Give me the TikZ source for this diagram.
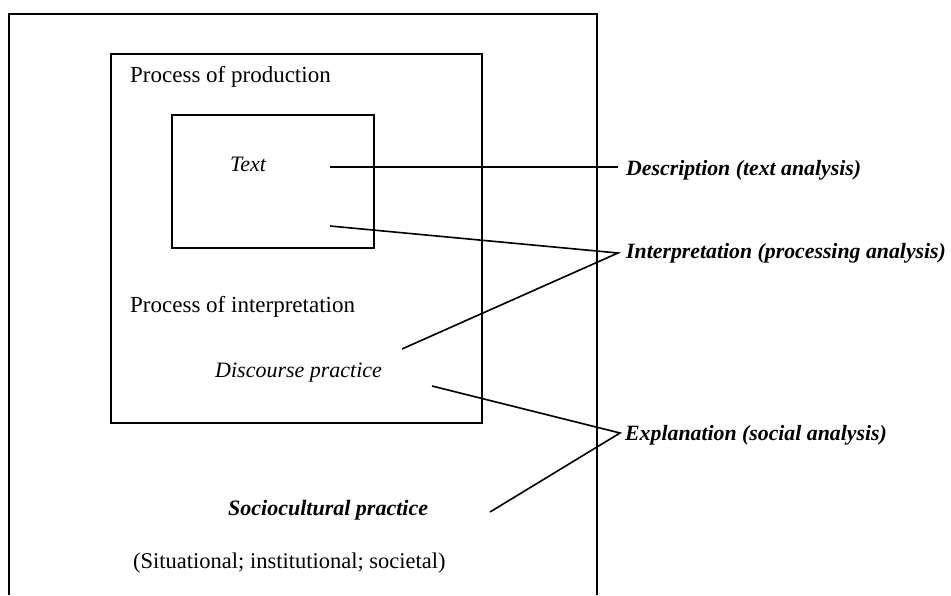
\documentclass[tikz,border=0pt]{standalone}
\usepackage{fontspec}
\setmainfont{Liberation Serif}
\begin{document}
\begin{tikzpicture}[x=1pt,y=-1pt,
  frame/.style={line width=1.7pt},
  conn/.style={line width=1.6pt},
  plain/.style={anchor=base west,inner sep=0pt,font=\fontsize{23}{27}\selectfont},
  ital/.style={anchor=base west,inner sep=0pt,font=\fontsize{22}{26}\selectfont\itshape},
  lab/.style={anchor=base west,inner sep=0pt,font=\fontsize{21.8}{26}\selectfont\bfseries\itshape}]
\useasboundingbox (0,0) rectangle (951,595);
% frames
\draw[frame] (9,595) -- (9,14) -- (597,14) -- (597,595);
\draw[frame] (111,54) rectangle (482,423);
\draw[frame] (172,115) rectangle (374,248);
% texts
\node[plain] (prod) at (130,82) {Process of production};
\node[ital] (text) at (230,171) {Text};
\node[plain] (interp) at (130,312) {Process of interpretation};
\node[ital] (disc) at (215,377) {Discourse practice};
\node[lab,font=\fontsize{22}{26}\selectfont\bfseries\itshape] (socio) at (228,515) {Sociocultural practice};
\node[plain,font=\fontsize{22.5}{26}\selectfont] (situ) at (133,568) {(Situational; institutional; societal)};
\node[lab] (desc) at (626,175) {Description (text analysis)};
\node[lab] (intl) at (626,258) {Interpretation (processing analysis)};
\node[lab] (expl) at (625,440) {Explanation (social analysis)};
% connector points
\coordinate (t1) at (330,167);
\coordinate (t2) at (330,226);
\coordinate (d1) at (402,349);
\coordinate (d2) at (432,386);
\coordinate (s1) at (490,512);
\coordinate (adesc) at (618,167);
\coordinate (aint) at (618,253);
\coordinate (aexp) at (620,433);
\draw[conn] (t1) -- (adesc);
\draw[conn] (t2) -- (aint) -- (d1);
\draw[conn] (d2) -- (aexp) -- (s1);
\end{tikzpicture}
\end{document}
